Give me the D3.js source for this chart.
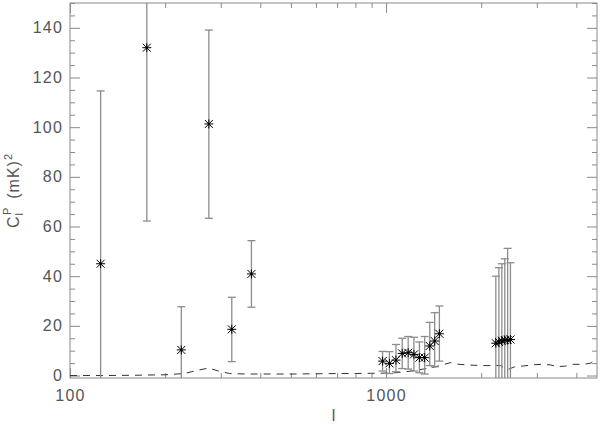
<!DOCTYPE html>
<html>
<head>
<meta charset="utf-8">
<script src="https://cdn.jsdelivr.net/npm/d3@7"></script>
<style>
  html, body { margin: 0; padding: 0; background: #fff; }
  svg { display: block; }
  text { font-family: "Liberation Sans", Arial, sans-serif; fill: #555; }
</style>
</head>
<body>
<svg id="chart" width="600" height="425"></svg>
<script>
// ---- data ----
const multipoleL = [125, 175, 225, 275, 325, 375,
  975, 1025, 1075, 1125, 1175, 1225, 1275, 1325, 1375, 1425, 1475,
  2225, 2275, 2325, 2375, 2425, 2475];
const clValues = [45, 132, 10.3, 101.3, 18.6, 40.9,
  5.8, 4.9, 6.2, 8.9, 9.2, 8.5, 7.2, 7.2, 11.9, 13.9, 16.8,
  13.0, 13.5, 14.0, 14.3, 14.3, 14.5];
const errLower = [-24.6, 62.2, -7.1, 63.3, 5.6, 27.5,
  1.8, 0.8, 1.5, 2.8, 2.6, 1.8, 1.1, 0.6, 4.0, 3.5, 5.8,
  -14, -16, -17, -18, -22, -16];
const errUpper = [114.6, 201.8, 27.7, 139.1, 31.5, 54.3,
  9.7, 9.6, 12.5, 15.0, 15.7, 15.4, 13.5, 15.7, 21.4, 25.3, 28.0,
  40.0, 43.4, 45.0, 47.0, 51.2, 45.4];

const specL = [100, 130, 160, 200, 230, 255, 275, 295, 320, 360, 420, 500, 600, 700, 800, 900,
  950, 1000, 1100, 1200, 1300, 1400, 1500, 1600, 1700, 1850, 2000, 2150, 2300, 2400, 2450,
  2550, 2700, 2900, 3100, 3300, 3500, 3700, 3900, 4100, 4300, 4450, 4650];
const specV = [0, 0, 0.1, 0.3, 0.8, 2.2, 3.0, 1.8, 0.8, 0.6, 0.6, 0.6, 0.7, 0.8, 0.8, 0.9,
  0.9, 1.0, 1.2, 1.8, 2.5, 3.2, 4.2, 5.2, 4.5, 4.2, 4.0, 4.0, 4.0, 2.8, 2.6,
  3.5, 3.8, 4.3, 4.5, 4.3, 3.6, 3.8, 4.5, 4.5, 4.7, 5.0, 6.9];

const yMajor = [0, 20, 40, 60, 80, 100, 120, 140];
const yMinor = d3.range(-0, 151, 5).filter(v => v % 20 !== 0);
const xMajor = [100, 1000];
const xMinor = [200, 300, 400, 500, 600, 700, 800, 900, 2000, 3000, 4000];

// ---- layout ----
const svg = d3.select("#chart");
const L = 70, R = 597, T = 3, B = 378;
const x = d3.scaleLog().domain([100, 4650]).range([L, R]);
const y = d3.scaleLinear().domain([-1, 150]).range([B, T]);
const frameColor = "#8a8a8a";

svg.append("defs").append("clipPath").attr("id", "plotclip")
  .append("rect").attr("x", L).attr("y", T).attr("width", R - L).attr("height", B - T);

// axes with inward ticks
function styleAxis(g) {
  g.select(".domain").remove();
  g.selectAll(".tick line").attr("stroke", frameColor).attr("stroke-width", 1);
  g.selectAll(".tick text").attr("font-size", 16).attr("fill", "#555")
    .attr("letter-spacing", "1.2px").attr("font-family", "Liberation Sans, Arial, sans-serif");
}
svg.append("g").attr("transform", `translate(${L},0)`)
  .call(d3.axisLeft(y).tickValues(yMajor).tickSize(-10).tickPadding(7).tickFormat(d3.format("d")))
  .call(styleAxis);
svg.append("g").attr("transform", `translate(${L},0)`)
  .call(d3.axisLeft(y).tickValues(yMinor).tickSize(-5).tickFormat(""))
  .call(styleAxis);
svg.append("g").attr("transform", `translate(${R},0)`)
  .call(d3.axisRight(y).tickValues(yMajor).tickSize(-10).tickFormat(""))
  .call(styleAxis);
svg.append("g").attr("transform", `translate(${R},0)`)
  .call(d3.axisRight(y).tickValues(yMinor).tickSize(-5).tickFormat(""))
  .call(styleAxis);
svg.append("g").attr("transform", `translate(0,${B})`)
  .call(d3.axisBottom(x).tickValues(xMajor).tickSize(-10).tickPadding(12).tickFormat(d3.format("d")))
  .call(styleAxis);
svg.append("g").attr("transform", `translate(0,${B})`)
  .call(d3.axisBottom(x).tickValues(xMinor).tickSize(-5).tickFormat(""))
  .call(styleAxis);
svg.append("g").attr("transform", `translate(0,${T})`)
  .call(d3.axisTop(x).tickValues(xMajor).tickSize(-10).tickFormat(""))
  .call(styleAxis);
svg.append("g").attr("transform", `translate(0,${T})`)
  .call(d3.axisTop(x).tickValues(xMinor).tickSize(-5).tickFormat(""))
  .call(styleAxis);

// frame
svg.append("rect").attr("x", L).attr("y", T).attr("width", R - L).attr("height", B - T)
  .attr("fill", "none").attr("stroke", frameColor).attr("stroke-width", 1);

const plot = svg.append("g").attr("clip-path", "url(#plotclip)");

// dashed model spectrum
plot.append("path")
  .datum(specL.map((l, i) => [l, specV[i]]))
  .attr("fill", "none").attr("stroke", "#333").attr("stroke-width", 1)
  .attr("stroke-dasharray", "7,6")
  .attr("d", d3.line().x(d => x(d[0])).y(d => y(d[1])));

// error bars
const pts = multipoleL.map((l, i) => ({ l, v: clValues[i], lo: errLower[i], hi: errUpper[i] }));
const eb = plot.append("g").attr("stroke", "#8c8c8c").attr("stroke-width", 1.3);
pts.forEach(p => {
  const cx = x(p.l);
  eb.append("line").attr("x1", cx).attr("x2", cx).attr("y1", y(p.lo)).attr("y2", y(p.hi));
  eb.append("line").attr("x1", cx - 4).attr("x2", cx + 4).attr("y1", y(p.lo)).attr("y2", y(p.lo));
  eb.append("line").attr("x1", cx - 4).attr("x2", cx + 4).attr("y1", y(p.hi)).attr("y2", y(p.hi));
});

// asterisk markers
const r = 4.5, rd = 4;
const mk = plot.append("g").attr("stroke", "#000").attr("stroke-width", 1);
pts.forEach(p => {
  const cx = x(p.l), cy = y(p.v);
  mk.append("path").attr("d",
    `M${cx - r},${cy}L${cx + r},${cy}` +
    `M${cx},${cy - r}L${cx},${cy + r}` +
    `M${cx - rd},${cy - rd}L${cx + rd},${cy + rd}` +
    `M${cx - rd},${cy + rd}L${cx + rd},${cy - rd}`);
  mk.append("rect").attr("x", cx - 1).attr("y", cy - 1).attr("width", 2).attr("height", 2)
    .attr("fill", "#000").attr("stroke", "none");
});

// axis titles
svg.append("text").attr("x", (L + R) / 2).attr("y", 421).attr("text-anchor", "middle")
  .attr("font-size", 16).text("l");

const yl = svg.append("text").attr("transform", `translate(19,${(T + B) / 2}) rotate(-90)`)
  .attr("text-anchor", "middle").attr("font-size", 16).attr("letter-spacing", "1px");
yl.append("tspan").text("C");
yl.append("tspan").attr("font-size", 11).attr("dy", 4).text("l");
yl.append("tspan").attr("font-size", 11).attr("dx", -3).attr("dy", -12).text("P");
yl.append("tspan").attr("dy", 8).attr("dx", 8).text("(mK)");
yl.append("tspan").attr("font-size", 11).attr("dy", -7).text("2");
</script>
</body>
</html>
